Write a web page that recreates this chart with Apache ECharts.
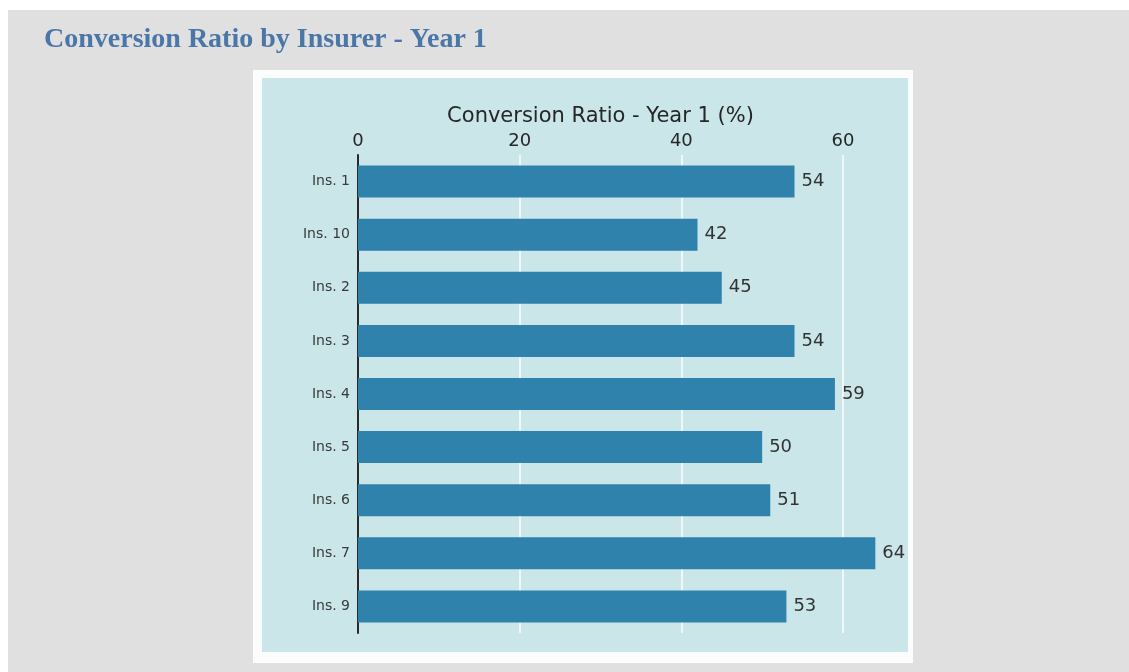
<!DOCTYPE html>
<html>
<head>
<meta charset="utf-8">
<script src="https://cdn.jsdelivr.net/npm/echarts@6/dist/echarts.min.js"></script>
<style>
  html, body { margin: 0; padding: 0; background: #ffffff; }
  #chart { width: 1129px; height: 672px; }
</style>
</head>
<body>
<div id="chart"></div>
<script>
// Insurers, top to bottom
const insurers = ['Ins. 1', 'Ins. 10', 'Ins. 2', 'Ins. 3', 'Ins. 4', 'Ins. 5', 'Ins. 6', 'Ins. 7', 'Ins. 9'];
// Year-1 conversion ratio, percent
const conversionYear1 = [54, 42, 45, 54, 59, 50, 51, 64, 53];
// Value-axis ticks
const xTicks = [0, 20, 40, 60];

const chart = echarts.init(document.getElementById('chart'), null, { renderer: 'canvas' });

const sans = 'DejaVu Sans';

chart.setOption({
  animation: false,
  backgroundColor: '#ffffff',
  title: {
    text: 'Conversion Ratio by Insurer - Year 1',
    left: 44,
    top: 26,
    padding: 0,
    textStyle: {
      fontFamily: 'Liberation Serif',
      fontWeight: 'bold',
      fontSize: 28,
      color: '#4a76a8'
    }
  },
  graphic: {
    elements: [
      { type: 'rect', z: -30, shape: { x: 8, y: 10, width: 1121, height: 662 }, style: { fill: '#e0e0e0' } },
      { type: 'rect', z: -20, shape: { x: 253, y: 70, width: 660, height: 593 }, style: { fill: '#fbfdfd' } },
      { type: 'rect', z: -10, shape: { x: 262, y: 78, width: 646, height: 574 }, style: { fill: '#cae6e9' } }
    ]
  },
  grid: {
    left: 358,
    top: 155,
    width: 485,
    height: 478,
    containLabel: false
  },
  xAxis: {
    type: 'value',
    position: 'top',
    min: xTicks[0],
    max: xTicks[xTicks.length - 1],
    interval: xTicks[1] - xTicks[0],
    name: 'Conversion Ratio - Year 1 (%)',
    nameLocation: 'middle',
    nameGap: 24,
    nameTextStyle: { fontFamily: sans, fontSize: 21, color: '#262626' },
    axisLine: { show: false },
    axisTick: { show: false },
    axisLabel: { fontFamily: sans, fontSize: 18, color: '#262626', margin: 5 },
    splitLine: { show: true, lineStyle: { color: '#eef8f9', width: 2 } }
  },
  yAxis: {
    type: 'category',
    data: insurers,
    inverse: true,
    axisLine: { show: true, lineStyle: { color: '#2a2a2a', width: 2 } },
    axisTick: { show: false },
    axisLabel: { fontFamily: sans, fontSize: 14, color: '#3a3a3a', margin: 8 },
    splitLine: { show: false }
  },
  series: [{
    type: 'bar',
    data: conversionYear1,
    barWidth: 32,
    clip: false,
    itemStyle: { color: '#2f82ab' },
    label: {
      show: true,
      position: 'right',
      distance: 7,
      fontFamily: sans,
      fontSize: 18,
      color: '#333333'
    }
  }]
});
</script>
</body>
</html>
